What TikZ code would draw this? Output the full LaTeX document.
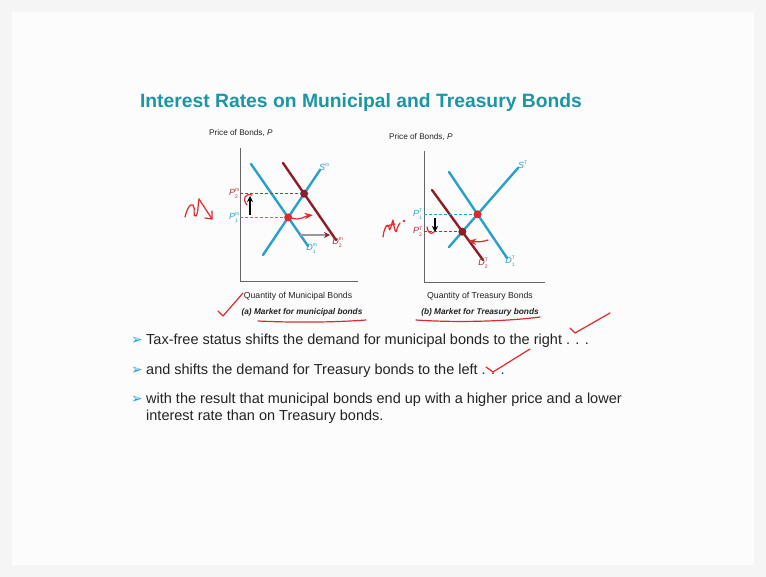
\documentclass[tikz,border=0pt]{standalone}
\usepackage{fontspec}
\setmainfont{Liberation Sans}
\newfontfamily\symfont{DejaVu Sans}
\usetikzlibrary{positioning,arrows.meta}
\definecolor{titleteal}{RGB}{26,150,165}
\definecolor{curveblue}{RGB}{40,160,205}
\definecolor{curvered}{RGB}{140,30,40}
\definecolor{lblred}{RGB}{175,50,60}
\definecolor{inkred}{RGB}{225,40,45}
\definecolor{bodygray}{RGB}{35,35,35}
\newcommand{\plbl}[3]{\textit{#1}\rlap{\raisebox{0.75ex}{\fontsize{5}{5}\selectfont #2}}\raisebox{-0.6ex}{\fontsize{5}{5}\selectfont #3}}

\begin{document}
\begin{tikzpicture}[x=1pt, y=-1pt, >=Stealth,
  axis/.style={draw=black!60, line width=0.9pt},
  curve/.style={line width=2.4pt, line cap=round},
  level/.style={dash pattern=on 3pt off 2pt, line width=1pt},
  dot/.style={circle, inner sep=0pt, minimum size=8pt},
  small/.style={font=\fontsize{8.2}{9}\selectfont, text=bodygray, inner sep=0pt},
  tag/.style={font=\fontsize{9}{10}\selectfont, inner sep=0pt},
  caption/.style={font=\fontsize{8.3}{10}\selectfont\bfseries\itshape, text=bodygray, inner sep=0pt},
  bullet/.style={font=\fontsize{14.5}{17}\selectfont, text=bodygray, anchor=west, inner sep=0pt, align=left},
  ink/.style={draw=inkred, line width=1.2pt, line cap=round, line join=round}]
  \fill[black!4] (0,0) rectangle (766,577);
  \fill[black!1] (12,12) rectangle (754,565);
  \useasboundingbox (0,0) rectangle (766,577);

  \node[font=\fontsize{19.3}{22}\selectfont\bfseries, text=titleteal] (title) at (361,103) {Interest Rates on Municipal and Treasury Bonds};

  % (a) municipal bonds
  \coordinate (ma) at (240,281); \coordinate (may) at (240,148); \coordinate (max) at (358,281);
  \draw[axis] (may) -- (ma) -- (max);
  \node[small, anchor=west] (mpy) at (209,133) {Price of Bonds, \textit{P}};
  \coordinate (ms1) at (263,255); \coordinate (ms2) at (320,170);
  \coordinate (md1) at (251,164); \coordinate (md2) at (308,246);
  \coordinate (mf1) at (283,163); \coordinate (mf2) at (336,240);
  \draw[curve, curveblue] (ms1) -- (ms2);
  \draw[curve, curveblue] (md1) -- (md2);
  \draw[curve, curvered] (mf1) -- (mf2);
  \coordinate (me1) at (intersection of ms1--ms2 and md1--md2);
  \coordinate (me2) at (intersection of ms1--ms2 and mf1--mf2);
  \draw[level, draw=curveblue] (ma |- me1) -- (me1);
  \draw[level, draw=lblred] (ma |- me2) -- (me2);
  \node[dot, fill=inkred] (mdot1) at (me1) {};
  \node[dot, fill=curvered] (mdot2) at (me2) {};
  \node[tag, text=curveblue, anchor=east] (mp1) at ([xshift=-2pt]ma |- me1) {\plbl{P}{m}{1}};
  \node[tag, text=lblred, anchor=east] (mp2) at ([xshift=-2pt]ma |- me2) {\plbl{P}{m}{2}};
  \node[tag, text=curveblue, anchor=south west] (msl) at ([xshift=-1pt,yshift=-1pt]ms2) {\textit{S}\textsuperscript{\fontsize{5}{5}\selectfont m}};
  \node[tag, text=curveblue, anchor=north] (md1l) at ([xshift=3pt,yshift=2pt]md2) {\plbl{D}{m}{1}};
  \node[tag, text=lblred, anchor=north] (mf1l) at ([xshift=1pt,yshift=2pt]mf2) {\plbl{D}{m}{2}};
  \coordinate (mup1) at (250,215); \coordinate (mup2) at (250,196);
  \draw[-{Stealth[length=6pt,width=6pt]}, line width=2.2pt] (mup1) -- (mup2);
  \coordinate (msh1) at (300,235); \coordinate (msh2) at (330,235);
  \draw[-{Stealth[length=6pt,width=6pt,color=curvered]}, line width=2.2pt, draw=black!40] (msh1) -- (msh2);
  \node[small, font=\fontsize{8.7}{10}\selectfont] (mqx) at (298,296) {Quantity of Municipal Bonds};
  \node[caption] (mcap) at (302,312) {(a) Market for municipal bonds};

  % (b) treasury bonds
  \coordinate (ta) at (424,282); \coordinate (tay) at (424,151); \coordinate (tax) at (545,282);
  \draw[axis] (tay) -- (ta) -- (tax);
  \node[small, anchor=west] (tpy) at (389,137) {Price of Bonds, \textit{P}};
  \coordinate (ts1) at (449,247); \coordinate (ts2) at (518,168);
  \coordinate (td1) at (449,172); \coordinate (td2) at (507,258);
  \coordinate (tf1) at (432,190); \coordinate (tf2) at (483,260);
  \draw[curve, curveblue] (ts1) -- (ts2);
  \draw[curve, curveblue] (td1) -- (td2);
  \draw[curve, curvered] (tf1) -- (tf2);
  \coordinate (te1) at (intersection of ts1--ts2 and td1--td2);
  \coordinate (te2) at (intersection of ts1--ts2 and tf1--tf2);
  \draw[level, draw=curveblue] (ta |- te1) -- (te1);
  \draw[level, draw=lblred] (ta |- te2) -- (te2);
  \node[dot, fill=inkred] (tdot1) at (te1) {};
  \node[dot, fill=curvered] (tdot2) at (te2) {};
  \node[tag, text=curveblue, anchor=east] (tp1) at ([xshift=-2pt]ta |- te1) {\plbl{P}{T}{1}};
  \node[tag, text=lblred, anchor=east] (tp2) at ([xshift=-2pt]ta |- te2) {\plbl{P}{T}{2}};
  \node[tag, text=curveblue, anchor=south west] (tsl) at ([xshift=0pt,yshift=-1pt]ts2) {\textit{S}\textsuperscript{\fontsize{5}{5}\selectfont T}};
  \node[tag, text=curveblue, anchor=north] (td1l) at ([xshift=3pt,yshift=2pt]td2) {\plbl{D}{T}{1}};
  \node[tag, text=lblred, anchor=north] (tf1l) at ([xshift=0pt,yshift=2pt]tf2) {\plbl{D}{T}{2}};
  \coordinate (tdn1) at (435,218); \coordinate (tdn2) at (435,232);
  \draw[-{Stealth[length=6pt,width=6pt]}, line width=2.2pt] (tdn1) -- (tdn2);
  \node[small, font=\fontsize{8.7}{10}\selectfont] (tqx) at (480,296) {Quantity of Treasury Bonds};
  \node[caption] (tcap) at (480,312) {(b) Market for Treasury bonds};

  % bullets
  \node[bullet] (b1) at (146,341) {Tax-free status shifts the demand for municipal bonds to the right . . .};
  \node[bullet] (b2) at (146,371) {and shifts the demand for Treasury bonds to the left . . .};
  \node[bullet] (b3) at (146,408.5) {with the result that municipal bonds end up with a higher price and a lower\\interest rate than on Treasury bonds.};
  \foreach \b/\y in {b1/341, b2/371, b3/400}
    \node[font=\symfont\fontsize{14}{16}\selectfont, text=curveblue, anchor=east, inner sep=0pt] (m\b) at (143,\y) {➢};

  % hand-drawn marks
  \draw[ink] (185,217) .. controls (187,209) and (190,203) .. (193,205) .. controls (196,208) and (192,218) .. (196,216) .. controls (198,214) and (198,206) .. (199,199);
  \draw[ink] (199,199) -- (212,219);
  \draw[ink] (205,218) -- (212,219) -- (212,211);
  \draw[ink] (247,205) .. controls (242,199) and (245,193) .. (252,195);
  \draw[ink, ->] (292,218) .. controls (300,221) and (305,216) .. (313,215);
  \draw[ink] (218,311) -- (223,316) -- (243,293);
  \draw[ink] (258,321) .. controls (300,323) and (340,322) .. (366,320);
  \draw[ink] (416,320) .. controls (460,323) and (510,321) .. (540,317);
  \draw[ink] (383,237) .. controls (384,229) and (387,222) .. (389,227) .. controls (390,235) and (391,224) .. (393,220) .. controls (394,228) and (396,236) .. (397,229) .. controls (398,226) and (399,224) .. (400,223);
  \draw[ink] (386,226) -- (395,224);
  \fill[inkred] (404,221) circle (1.4pt);
  \draw[ink] (427,227) .. controls (428,233) and (431,235) .. (434,232);
  \draw[ink, ->] (488,240) .. controls (482,242) and (478,242) .. (468,241);
  \draw[ink] (570,328) -- (575,333) -- (610,313);
  \draw[ink] (486,367) -- (493,372) -- (530,349);
\end{tikzpicture}
\end{document}
